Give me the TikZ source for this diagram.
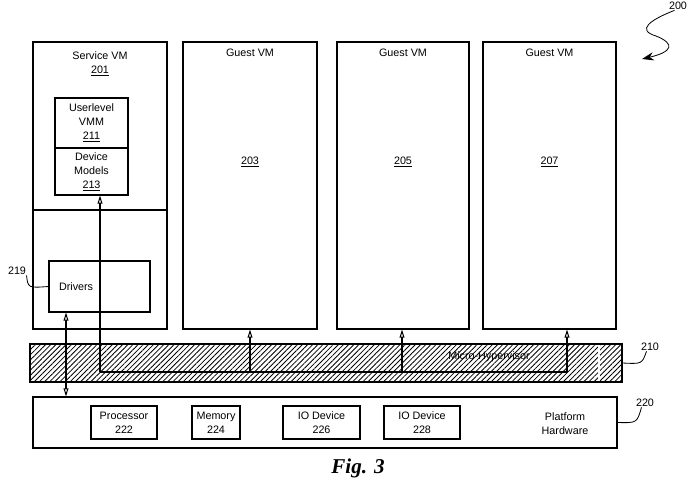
\documentclass[tikz,border=0pt]{standalone}
\usepackage{fontspec}
\setmainfont{Liberation Sans}
\newfontfamily\figfont{Liberation Serif}
\usepackage{tikz}
\usetikzlibrary{arrows.meta,positioning,patterns.meta}

\begin{document}
\begin{tikzpicture}[x=0.3mm,y=-0.3mm,font=\fontsize{9.2}{11.9}\selectfont,
        >={Triangle[open,length=7pt,width=4.2pt]},line width=0.9pt,
        box/.style 2 args={draw,inner sep=0pt,align=center,
          minimum width=#1*0.3mm,minimum height=#2*0.3mm},
        txt/.style={inner sep=0pt,align=center},
        leader/.style={line width=0.7pt}]

  \useasboundingbox (0,0) rectangle (690,493);

  \node[box={134}{287}] (svm) at (100,185.5) {};
  \node[box={73}{50}] (vmm) at (91.5,123) {Userlevel\\VMM\\\underline{211}};
  \node[box={73}{47}] (devmod) at (91.5,171.5) {Device\\Models\\\underline{213}};
  \node[box={101}{51}] (drv) at (99.5,286.5) {};
  \node[txt,right=3mm of drv.west] (drvname) {Drivers};
  \node[txt] (svmname) at (100,64) {Service VM\\\underline{201}};

  \coordinate (split) at (0,210);
  \draw (svm.west |- split) -- (svm.east |- split);

  \node[box={134}{287}] (g203) at (250,185.5) {};
  \node[box={132}{287}] (g205) at (403,185.5) {};
  \node[box={133}{287}] (g207) at (549.5,185.5) {};
  \node[txt] (g203name) at (250,53) {Guest VM};
  \node[txt] (g205name) at (403,53) {Guest VM};
  \node[txt] (g207name) at (549.5,53) {Guest VM};
  \node[txt] (g203num) at (250,162) {\underline{203}};
  \node[txt] (g205num) at (403,162) {\underline{205}};
  \node[txt] (g207num) at (549.5,162) {\underline{207}};

  \node[box={592}{38},pattern={Lines[angle=45,distance=3.1pt,line width=0.7pt]}]
    (hyp) at (326,363) {};
  \coordinate (gap) at (599,0);
  \draw[white,line width=1.6pt,dash pattern=on 7pt off 1.5pt,
        shorten <=1pt,shorten >=1pt] (gap |- hyp.north) -- (gap |- hyp.south);
  \node[txt] (hypname) at (489,357) {Micro-Hypervisor};

  \node[box={584}{51}] (hw) at (325,422.5) {};
  \node[box={66}{33}] (cpu) at (124,422.5) {Processor\\222};
  \node[box={48}{33}] (mem) at (216,422.5) {Memory\\224};
  \node[box={77}{33}] (io1) at (321.5,422.5) {IO Device\\226};
  \node[box={76}{33}] (io2) at (422,422.5) {IO Device\\228};
  \node[txt] (hwname) at (565,424) {Platform\\Hardware};

  \coordinate (busL) at (100,372);
  \coordinate (tap203) at (250,372);
  \coordinate (tap205) at (402,372);
  \coordinate (busR) at (567,372);
  \draw (busL) -- (busR);
  \draw[->] (busL) -- (busL |- devmod.south);
  \draw[->] (tap203) -- (tap203 |- g203.south);
  \draw[->] (tap205) -- (tap205 |- g205.south);
  \draw[->] (busR) -- (busR |- g207.south);

  \coordinate (drvlink) at (66,0);
  \draw[<->] (drvlink |- hw.north) -- (drvlink |- drv.south);

  \node[txt] (l200) at (678,6) {200};
  \node[txt] (l210) at (650,347) {210};
  \node[txt] (l219) at (17,271) {219};
  \node[txt] (l220) at (645,403) {220};

  \coordinate (tip200) at (642,59);
  \draw[leader,-{Stealth[length=10pt,width=7pt]}] ([xshift=-3pt]l200.south)
    .. controls (650,20) and (636,30) .. (656,36)
    .. controls (676,44) and (672,52) .. (tip200);
  \draw[leader] (l219.south east) .. controls (28,288) .. (drv.west);
  \draw[leader] (hyp.east) .. controls (642,364) .. ([xshift=-3pt]l210.south);
  \draw[leader] (hw.east) .. controls (637,423) .. ([xshift=-3pt]l220.south);

  \node[txt] (fig) at (358,468)
    {\figfont\fontsize{18}{21}\selectfont\bfseries\itshape Fig. 3};

\end{tikzpicture}
\end{document}
